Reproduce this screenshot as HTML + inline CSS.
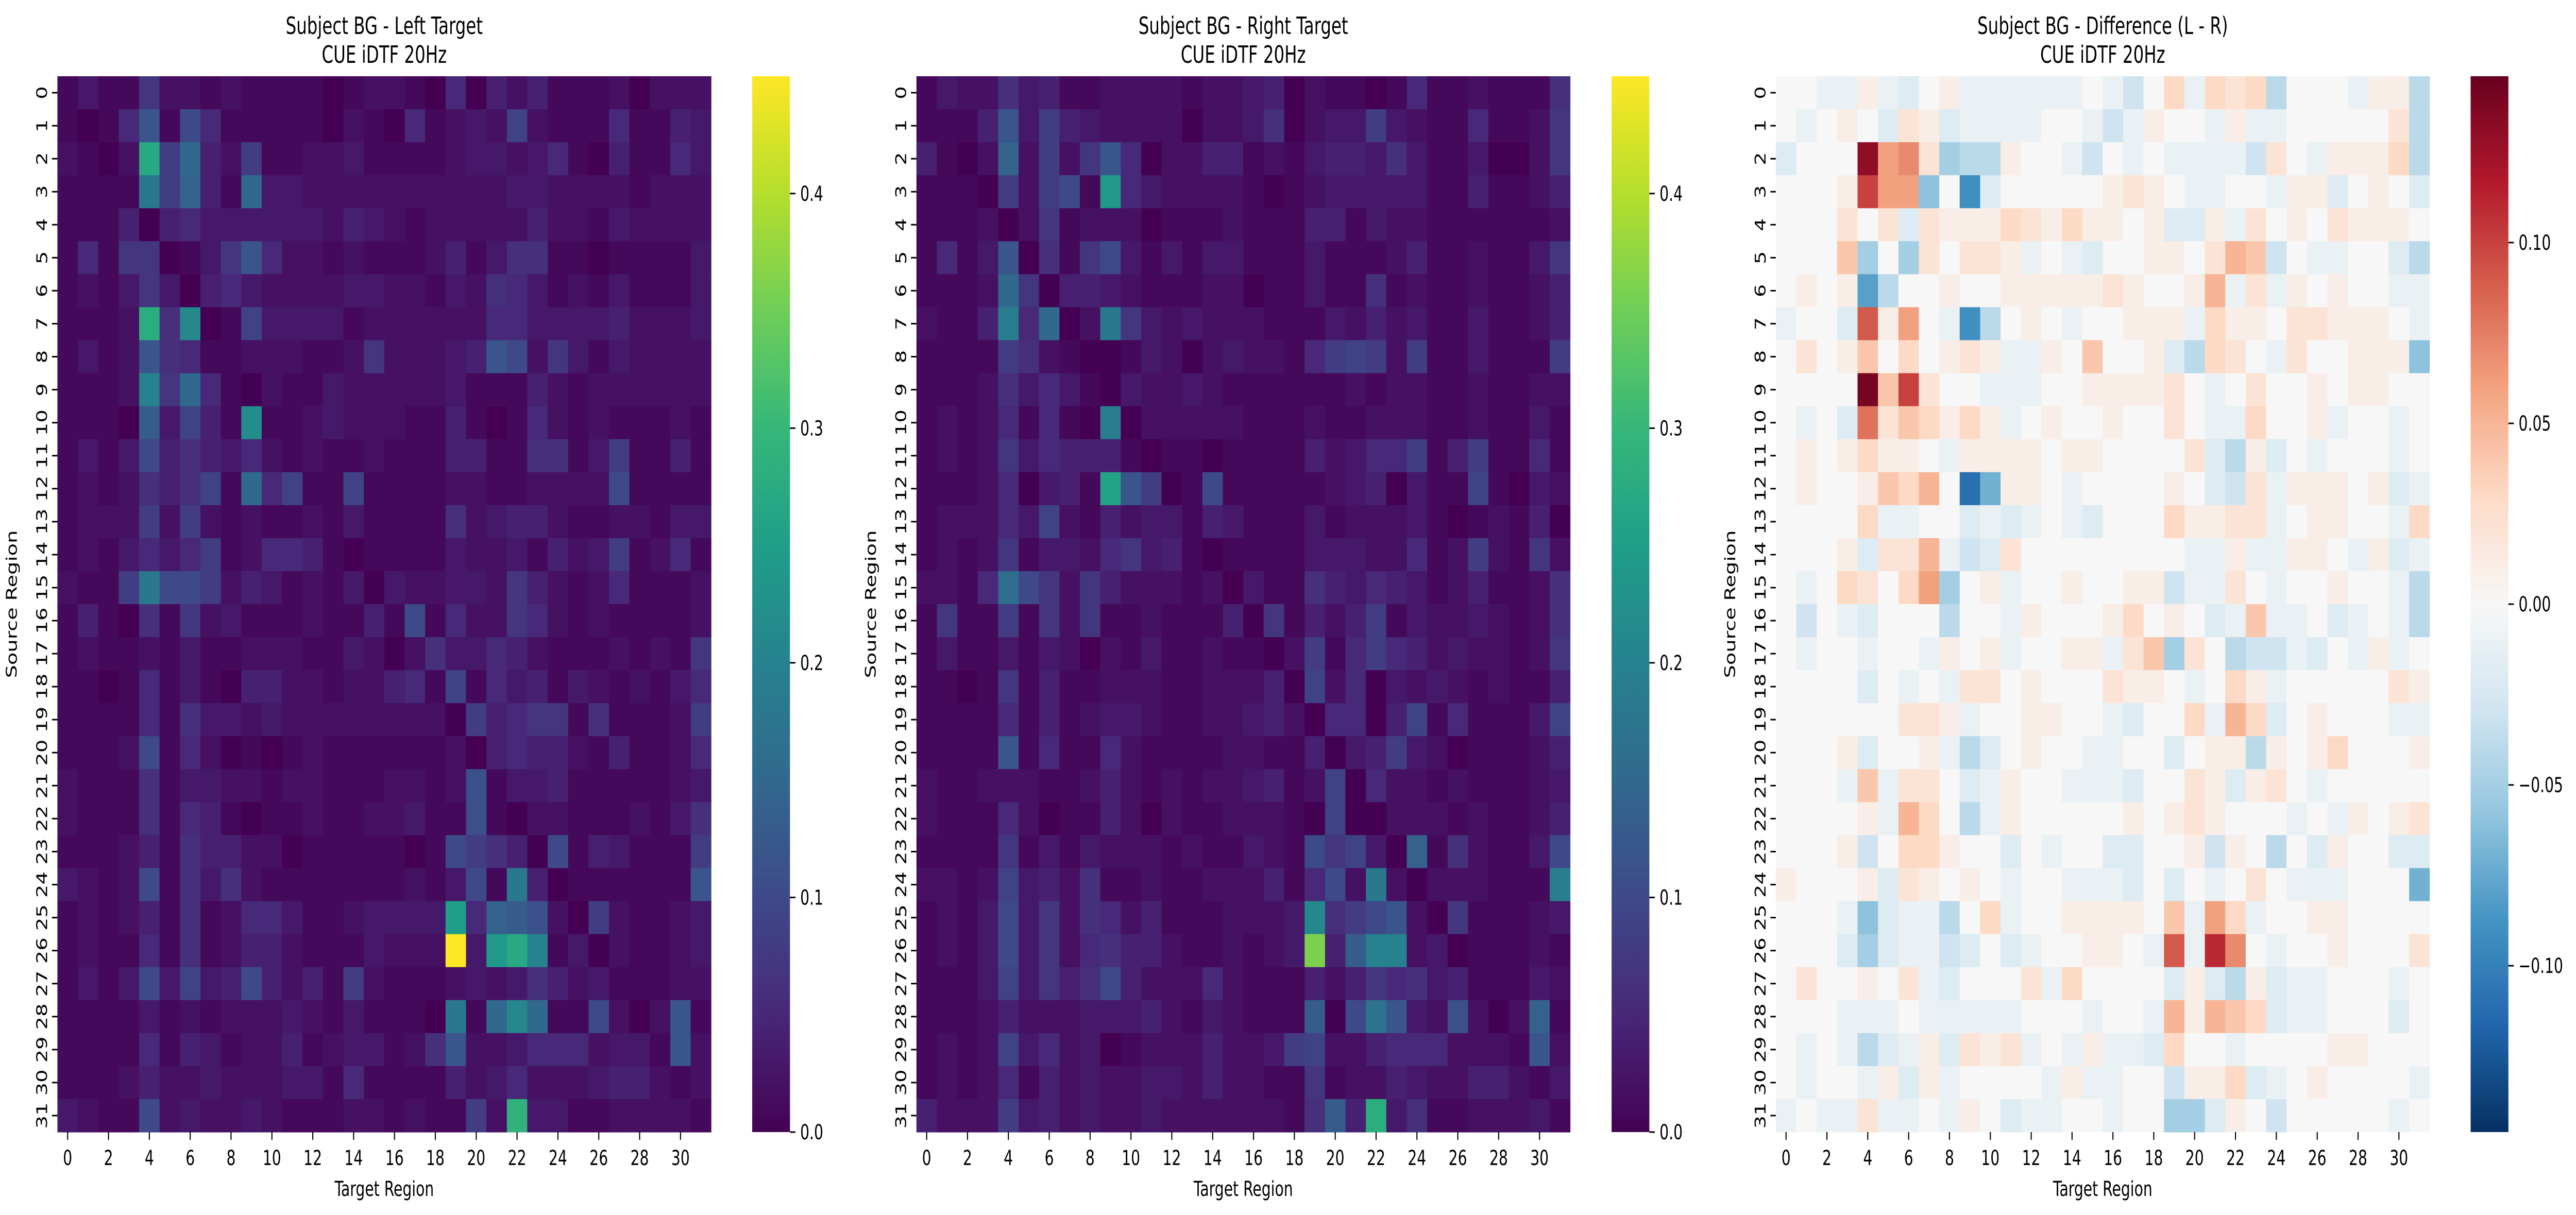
<!DOCTYPE html>
<html><head><meta charset="utf-8"><style>
html,body{margin:0;padding:0;background:#fff;overflow:hidden;width:100vw;height:100vh}
svg{display:block;width:100vw;height:100vh}
text{font-family:"DejaVu Sans","Liberation Sans",sans-serif;fill:#000}
</style></head><body>
<svg id="fig" viewBox="0 0 7089 2359" preserveAspectRatio="none" xmlns="http://www.w3.org/2000/svg"></svg>
<script>
const leftValues = [
[.01,.03,.01,.01,.07,.02,.02,.01,.02,.01,.01,.01,.01,.0,.01,.02,.02,.01,.0,.05,.0,.04,.02,.04,.01,.01,.01,.02,.0,.02,.02,.02],
[.01,.0,.01,.05,.12,.01,.1,.05,.01,.01,.01,.01,.01,.0,.02,.01,.0,.05,.01,.02,.03,.02,.09,.02,.01,.01,.01,.05,.01,.01,.04,.03],
[.02,.01,.0,.02,.27,.08,.15,.04,.02,.08,.01,.01,.02,.02,.03,.01,.01,.01,.01,.02,.03,.03,.02,.03,.05,.01,.0,.04,.01,.01,.05,.03],
[.01,.01,.01,.01,.18,.08,.14,.04,.01,.15,.03,.03,.02,.02,.02,.02,.02,.02,.02,.02,.02,.02,.03,.03,.02,.02,.02,.02,.01,.02,.02,.02],
[.01,.01,.01,.04,.0,.04,.05,.03,.03,.03,.03,.03,.03,.02,.04,.03,.02,.01,.02,.02,.02,.02,.02,.04,.02,.02,.01,.03,.02,.02,.02,.02],
[.01,.05,.01,.07,.07,.0,.01,.03,.07,.12,.05,.02,.02,.01,.02,.01,.01,.01,.02,.04,.01,.03,.06,.06,.01,.01,.0,.01,.01,.01,.01,.03],
[.01,.02,.01,.03,.07,.03,.0,.04,.05,.03,.02,.02,.02,.02,.03,.03,.02,.02,.01,.03,.02,.06,.05,.03,.01,.02,.01,.03,.01,.01,.01,.03],
[.01,.01,.01,.02,.28,.06,.21,.0,.01,.09,.03,.03,.03,.03,.01,.02,.02,.02,.02,.02,.02,.05,.05,.03,.03,.03,.03,.04,.02,.02,.02,.03],
[.01,.03,.01,.02,.12,.06,.05,.01,.01,.02,.02,.02,.01,.01,.02,.07,.02,.02,.02,.03,.04,.12,.1,.02,.07,.03,.01,.03,.02,.02,.02,.02],
[.01,.01,.01,.02,.2,.07,.15,.05,.01,.0,.02,.01,.01,.03,.02,.02,.02,.02,.02,.03,.01,.01,.01,.04,.02,.01,.02,.02,.02,.02,.02,.02],
[.01,.01,.01,.0,.13,.03,.09,.04,.01,.22,.01,.01,.02,.03,.02,.02,.02,.01,.01,.04,.01,.0,.01,.05,.02,.01,.02,.01,.01,.01,.02,.01],
[.01,.03,.01,.03,.1,.04,.06,.04,.03,.05,.02,.01,.02,.01,.01,.02,.01,.01,.01,.04,.04,.01,.01,.06,.06,.01,.03,.08,.01,.01,.04,.01],
[.01,.02,.01,.02,.06,.04,.06,.09,.01,.15,.05,.09,.01,.01,.09,.01,.01,.01,.01,.02,.02,.01,.01,.02,.02,.02,.02,.1,.01,.01,.01,.01],
[.01,.02,.02,.02,.08,.02,.08,.02,.01,.02,.01,.01,.02,.01,.03,.01,.01,.01,.01,.06,.02,.03,.04,.04,.02,.01,.01,.02,.02,.01,.03,.03],
[.01,.02,.01,.03,.05,.03,.05,.08,.01,.02,.05,.05,.04,.01,.0,.01,.01,.01,.01,.03,.02,.02,.03,.01,.04,.02,.03,.08,.01,.02,.05,.01],
[.02,.01,.01,.08,.18,.1,.1,.08,.02,.04,.03,.01,.02,.01,.03,.0,.03,.02,.02,.03,.03,.02,.07,.04,.02,.01,.02,.05,.01,.01,.01,.02],
[.01,.04,.01,.0,.06,.01,.07,.02,.03,.01,.01,.01,.02,.01,.01,.04,.01,.1,.01,.05,.02,.02,.07,.05,.02,.01,.02,.01,.01,.01,.01,.02],
[.01,.02,.01,.01,.02,.01,.03,.01,.01,.02,.02,.02,.01,.01,.03,.02,.0,.02,.06,.03,.03,.05,.04,.02,.01,.01,.01,.02,.01,.02,.01,.07],
[.01,.01,.0,.01,.05,.01,.03,.01,.0,.04,.04,.02,.02,.01,.02,.02,.04,.05,.01,.09,.01,.05,.03,.04,.01,.03,.02,.01,.02,.01,.03,.05],
[.01,.01,.01,.01,.05,.01,.06,.03,.03,.02,.03,.02,.02,.02,.02,.02,.02,.02,.02,.0,.08,.04,.05,.07,.07,.01,.06,.01,.01,.01,.02,.08],
[.01,.01,.01,.02,.1,.01,.05,.02,.0,.01,.0,.01,.02,.01,.01,.01,.01,.01,.01,.02,.0,.04,.05,.04,.04,.02,.01,.04,.01,.01,.02,.05],
[.02,.01,.01,.01,.06,.01,.03,.03,.02,.02,.01,.02,.02,.01,.01,.01,.02,.02,.01,.02,.11,.01,.03,.03,.04,.01,.01,.01,.01,.01,.02,.03],
[.02,.01,.01,.01,.06,.01,.05,.04,.01,.0,.01,.01,.02,.01,.01,.02,.02,.03,.01,.01,.11,.01,.0,.02,.02,.01,.01,.01,.02,.01,.03,.06],
[.01,.01,.01,.02,.04,.01,.06,.04,.04,.02,.02,.0,.01,.01,.01,.01,.01,.0,.01,.1,.08,.06,.04,.0,.1,.01,.04,.03,.01,.01,.01,.08],
[.03,.02,.01,.02,.1,.01,.06,.03,.06,.02,.01,.01,.01,.01,.01,.01,.01,.02,.01,.03,.1,.01,.18,.04,.0,.01,.01,.01,.01,.01,.01,.12],
[.01,.02,.01,.02,.04,.01,.06,.01,.02,.05,.05,.03,.01,.01,.02,.03,.03,.03,.03,.25,.05,.14,.13,.11,.02,.0,.08,.02,.01,.01,.02,.03],
[.01,.02,.01,.01,.05,.01,.06,.01,.02,.04,.04,.02,.01,.01,.01,.03,.02,.02,.02,.45,.03,.24,.27,.2,.01,.03,.0,.02,.01,.01,.02,.03],
[.01,.03,.01,.03,.1,.03,.09,.03,.04,.1,.04,.02,.04,.01,.08,.02,.01,.01,.01,.02,.03,.02,.03,.06,.04,.02,.03,.01,.01,.01,.02,.02],
[.01,.01,.01,.01,.03,.01,.02,.01,.02,.02,.02,.03,.02,.01,.03,.01,.01,.01,.0,.18,.01,.15,.21,.15,.01,.01,.1,.02,.0,.02,.12,.01],
[.01,.01,.01,.01,.05,.01,.04,.03,.01,.02,.02,.04,.01,.02,.03,.03,.01,.02,.06,.12,.02,.02,.03,.05,.05,.05,.02,.03,.03,.01,.12,.02],
[.01,.01,.01,.02,.04,.02,.02,.03,.02,.02,.02,.03,.03,.01,.05,.01,.01,.01,.01,.04,.02,.03,.05,.02,.02,.02,.03,.04,.04,.02,.01,.02],
[.03,.02,.01,.01,.1,.02,.03,.02,.02,.03,.02,.01,.01,.01,.02,.02,.01,.02,.01,.01,.08,.02,.29,.03,.03,.01,.01,.02,.02,.02,.02,.01]
];
const rightValues = [
[.01,.03,.02,.02,.06,.03,.04,.01,.01,.02,.02,.02,.02,.01,.02,.02,.03,.04,.0,.02,.01,.01,.0,.01,.05,.01,.01,.02,.01,.01,.01,.06],
[.01,.01,.01,.04,.12,.03,.08,.04,.03,.02,.02,.02,.02,.0,.02,.02,.03,.06,.0,.02,.03,.03,.08,.03,.02,.01,.01,.05,.01,.01,.02,.07],
[.04,.01,.0,.02,.14,.02,.08,.02,.07,.12,.05,.0,.02,.02,.04,.04,.01,.02,.01,.03,.04,.04,.03,.06,.03,.01,.01,.03,.0,.0,.02,.07],
[.01,.01,.01,.0,.08,.02,.08,.1,.01,.24,.05,.03,.02,.02,.02,.02,.01,.0,.01,.02,.03,.03,.03,.03,.03,.01,.01,.04,.01,.01,.02,.04],
[.01,.01,.01,.02,.0,.02,.07,.01,.02,.02,.02,.0,.01,.01,.01,.02,.01,.01,.01,.04,.04,.01,.03,.02,.02,.01,.01,.01,.01,.01,.01,.02],
[.01,.05,.01,.03,.12,.0,.06,.01,.07,.1,.03,.01,.03,.01,.03,.03,.01,.01,.01,.03,.01,.01,.01,.02,.04,.01,.01,.02,.01,.01,.03,.07],
[.01,.01,.01,.02,.15,.07,.0,.04,.04,.03,.02,.01,.01,.01,.02,.02,.0,.01,.01,.03,.01,.01,.06,.01,.02,.01,.01,.02,.01,.01,.02,.04],
[.02,.01,.01,.04,.19,.05,.15,.0,.02,.18,.07,.03,.02,.03,.02,.02,.02,.01,.01,.01,.03,.02,.04,.02,.03,.01,.01,.03,.01,.01,.02,.04],
[.01,.01,.01,.01,.08,.06,.02,.01,.0,.0,.01,.03,.02,.0,.02,.03,.02,.02,.01,.05,.08,.09,.08,.02,.08,.01,.01,.03,.01,.01,.01,.08],
[.01,.01,.01,.02,.06,.03,.05,.03,.01,.0,.03,.02,.02,.03,.02,.01,.01,.01,.01,.01,.01,.02,.01,.02,.02,.01,.01,.02,.01,.01,.02,.02],
[.01,.02,.01,.02,.05,.01,.05,.01,.0,.19,.0,.02,.02,.02,.02,.02,.01,.01,.01,.02,.01,.01,.02,.02,.02,.01,.01,.02,.01,.01,.03,.01],
[.01,.02,.01,.02,.07,.03,.05,.04,.04,.04,.01,.0,.01,.01,.0,.01,.01,.01,.01,.04,.02,.03,.05,.05,.08,.01,.04,.08,.01,.01,.05,.01],
[.01,.01,.01,.02,.05,.0,.03,.04,.01,.26,.12,.08,.0,.01,.1,.01,.01,.01,.01,.01,.02,.03,.04,.0,.03,.01,.01,.09,.01,.0,.03,.02],
[.01,.02,.02,.02,.05,.03,.09,.02,.01,.04,.02,.03,.03,.01,.04,.03,.01,.01,.01,.03,.01,.02,.02,.02,.03,.01,.0,.01,.02,.01,.04,.0],
[.01,.02,.01,.02,.07,.01,.03,.03,.02,.05,.07,.03,.04,.01,.0,.01,.01,.01,.01,.03,.03,.03,.02,.02,.05,.01,.02,.08,.02,.01,.07,.02],
[.02,.02,.01,.05,.16,.1,.07,.02,.07,.04,.02,.02,.02,.01,.02,.0,.03,.01,.01,.06,.04,.03,.05,.04,.03,.01,.02,.04,.01,.01,.02,.06],
[.01,.07,.01,.01,.08,.01,.07,.02,.07,.01,.01,.02,.01,.01,.01,.04,.0,.07,.01,.04,.02,.04,.08,.01,.03,.02,.02,.03,.02,.01,.02,.06],
[.01,.03,.01,.01,.03,.01,.03,.02,.0,.02,.01,.03,.01,.01,.02,.01,.01,.0,.02,.08,.01,.05,.08,.05,.04,.02,.03,.02,.02,.01,.02,.07],
[.01,.01,.0,.01,.07,.01,.04,.01,.01,.02,.02,.02,.01,.01,.02,.02,.02,.04,.0,.09,.02,.05,.0,.03,.02,.03,.02,.01,.02,.01,.01,.04],
[.01,.01,.01,.01,.05,.01,.04,.01,.02,.03,.03,.02,.01,.01,.02,.02,.03,.04,.02,.0,.05,.05,.0,.04,.09,.01,.05,.01,.01,.01,.03,.09],
[.01,.01,.01,.01,.12,.01,.05,.01,.01,.05,.02,.01,.01,.01,.01,.02,.02,.01,.01,.04,.0,.03,.04,.08,.03,.02,.0,.01,.01,.01,.02,.04],
[.02,.01,.01,.02,.02,.02,.01,.01,.02,.04,.02,.01,.02,.01,.02,.02,.03,.04,.01,.02,.09,.0,.05,.02,.02,.01,.02,.01,.01,.01,.02,.03],
[.02,.01,.01,.01,.05,.02,.0,.01,.01,.04,.02,.0,.02,.01,.01,.02,.02,.02,.01,.0,.09,.0,.0,.02,.02,.02,.01,.02,.01,.01,.02,.04],
[.01,.01,.01,.01,.07,.01,.03,.01,.03,.02,.02,.02,.01,.02,.01,.01,.03,.02,.01,.1,.07,.09,.03,.0,.14,.01,.06,.02,.01,.01,.03,.1],
[.02,.02,.01,.02,.09,.03,.04,.02,.06,.01,.01,.02,.01,.01,.02,.02,.02,.04,.01,.05,.1,.02,.18,.02,.0,.02,.02,.02,.01,.01,.01,.19],
[.01,.02,.01,.03,.1,.03,.07,.02,.06,.05,.02,.04,.01,.01,.01,.02,.02,.02,.03,.21,.06,.08,.1,.12,.02,.0,.07,.01,.01,.01,.02,.03],
[.01,.02,.01,.03,.1,.03,.07,.02,.05,.06,.04,.04,.02,.01,.01,.02,.01,.02,.03,.36,.04,.13,.2,.2,.02,.03,.0,.01,.01,.01,.02,.01],
[.01,.01,.01,.03,.09,.03,.07,.04,.06,.1,.04,.02,.02,.02,.05,.02,.01,.01,.01,.04,.02,.04,.07,.05,.06,.03,.04,.01,.01,.01,.03,.02],
[.01,.01,.01,.02,.04,.02,.02,.02,.03,.03,.03,.04,.02,.01,.03,.02,.01,.01,.01,.13,.0,.1,.17,.12,.03,.02,.11,.02,.0,.02,.14,.01],
[.01,.02,.01,.02,.09,.03,.05,.02,.03,.0,.01,.02,.02,.02,.04,.02,.02,.03,.08,.09,.02,.02,.04,.05,.05,.05,.02,.02,.02,.01,.12,.02],
[.01,.02,.01,.02,.05,.01,.04,.02,.03,.02,.02,.03,.03,.02,.04,.02,.02,.01,.01,.07,.01,.02,.02,.04,.03,.02,.02,.04,.04,.02,.01,.03],
[.04,.02,.02,.02,.08,.03,.04,.02,.03,.02,.02,.03,.02,.02,.02,.02,.02,.02,.01,.06,.13,.04,.28,.03,.06,.01,.01,.02,.02,.02,.03,.01]
];
const regionLabels = Array.from({length:32},(_,i)=>String(i));
const xTickLabels = ["0","2","4","6","8","10","12","14","16","18","20","22","24","26","28","30"];
const seqTicks = [0.0,0.1,0.2,0.3,0.4];
const seqTickLabels = ["0.0","0.1","0.2","0.3","0.4"];
const divTicks = [0.10,0.05,0.00,-0.05,-0.10];
const divTickLabels = ["0.10","0.05","0.00","\u22120.05","\u22120.10"];

const NS="http://www.w3.org/2000/svg";
const svg=document.getElementById('fig');
function mk(tag,attrs,parent){const e=document.createElementNS(NS,tag);for(const k in attrs)e.setAttribute(k,attrs[k]);(parent||svg).appendChild(e);return e;}
const VIR=["#440154","#482878","#3e4989","#31688e","#26828e","#1f9e89","#35b779","#6ece58","#b5de2b","#fde725"];
const RDBU=["#053061","#2166ac","#4393c3","#92c5de","#d1e5f0","#f7f7f7","#fddbc7","#f4a582","#d6604d","#b2182b","#67001f"];
function hex(h){return [parseInt(h.slice(1,3),16),parseInt(h.slice(3,5),16),parseInt(h.slice(5,7),16)];}
function cmap(stops,t){t=Math.max(0,Math.min(1,t));const n=stops.length-1;const p=t*n;const i=Math.min(n-1,Math.floor(p));const f=p-i;const a=hex(stops[i]),b=hex(stops[i+1]);return 'rgb('+a.map((v,k)=>Math.round(v+(b[k]-v)*f)).join(',')+')';}

const TOP=148, H=2050, W=1799, NC=32;
const panels=[
 {x0:158,title:"Subject BG - Left Target",data:leftValues,stops:VIR,vmin:0,vmax:0.45,cbx:2070,ticks:seqTicks,tl:seqTickLabels,key:'left'},
 {x0:2522,title:"Subject BG - Right Target",data:rightValues,stops:VIR,vmin:0,vmax:0.45,cbx:4435,ticks:seqTicks,tl:seqTickLabels,key:'right'},
 {x0:4887,title:"Subject BG - Difference (L - R)",data:leftValues.map((r,i)=>r.map((v,j)=>v-rightValues[i][j])),stops:RDBU,vmin:-0.146,vmax:0.146,cbx:6799,ticks:divTicks,tl:divTickLabels,key:'diff'}
];
panels.forEach((p,pi)=>{
  const g=mk('g',{});
  
  
  const xs=j=>p.x0+j*W/NC, ys=i=>TOP+i*H/NC;
  const norm=v=>(v-p.vmin)/(p.vmax-p.vmin);
  p.data.forEach((row,i)=>row.forEach((v,j)=>{
    const r=mk('rect',{x:xs(j).toFixed(2),y:ys(i).toFixed(2),width:(W/NC+0.6).toFixed(2),height:(H/NC+0.6).toFixed(2),fill:cmap(p.stops,norm(v))},g);
    
    
  }));
  const cx=p.x0+W/2;
  const t1=mk('text',{x:cx,y:66,'font-size':46,'text-anchor':'middle'});t1.textContent=p.title;
  
  
  const t2=mk('text',{x:cx,y:122,'font-size':46,'text-anchor':'middle'});t2.textContent="CUE iDTF 20Hz";
  
  
  xTickLabels.forEach(lab=>{
    const j=+lab;const x=xs(j)+W/NC/2;
    mk('line',{x1:x,y1:TOP+H,x2:x,y2:TOP+H+15,stroke:'#000','stroke-width':3});
    const t=mk('text',{x:x,y:2262,'font-size':40,'text-anchor':'middle'});t.textContent=lab;
    
    
  });
  const xl=mk('text',{x:cx,y:2322,'font-size':40,'text-anchor':'middle'});xl.textContent="Target Region";
  
  
  regionLabels.forEach((lab,i)=>{
    const y=ys(i)+H/NC/2;
    mk('line',{x1:p.x0-15,y1:y,x2:p.x0,y2:y,stroke:'#000','stroke-width':3});
    const t=mk('text',{x:p.x0-28,y:y,'font-size':40,'text-anchor':'middle',transform:`rotate(-90 ${p.x0-28} ${y})`});t.textContent=lab;
    
    
  });
  const yx=p.x0-112, yy=TOP+H/2;
  const yl=mk('text',{x:yx,y:yy,'font-size':40,'text-anchor':'middle',transform:`rotate(-90 ${yx} ${yy})`});yl.textContent="Source Region";
  
  
  const gid='grad'+pi;
  const defs=mk('defs',{});
  const lg=mk('linearGradient',{id:gid,x1:0,y1:1,x2:0,y2:0},defs);
  for(let k=0;k<=40;k++){mk('stop',{offset:(k/40),'stop-color':cmap(p.stops,k/40)},lg);}
  const cb=mk('rect',{x:p.cbx,y:TOP,width:104,height:H,fill:`url(#${gid})`});
  
  
  p.ticks.forEach((tv,k)=>{
    const y=TOP+H-norm(tv)*H;
    mk('line',{x1:p.cbx+104,y1:y,x2:p.cbx+119,y2:y,stroke:'#000','stroke-width':3});
    const t=mk('text',{x:p.cbx+132,y:y+14,'font-size':40});t.textContent=p.tl[k];
    
    
  });
});
</script>
</body></html>
